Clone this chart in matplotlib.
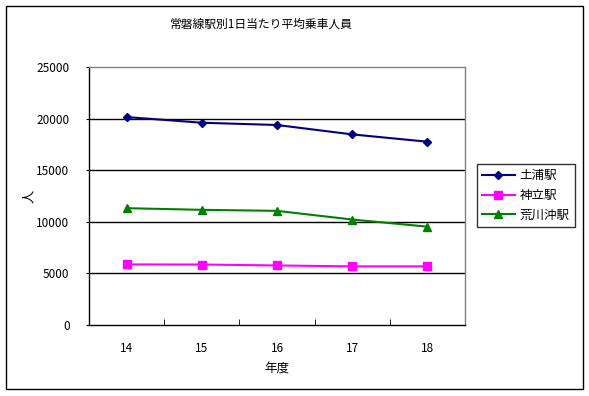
import matplotlib
matplotlib.use("Agg")
import matplotlib.pyplot as plt
from matplotlib.patches import Rectangle

plt.rcParams['font.family'] = ['Noto Sans CJK JP', 'DejaVu Sans']

title = "常磐線駅別1日当たり平均乗車人員"
years = ["14", "15", "16", "17", "18"]
tsuchiura = [20150, 19600, 19380, 18470, 17760]
kandatsu = [5870, 5860, 5770, 5680, 5680]
arakawaoki = [11320, 11160, 11060, 10220, 9530]
series_names = ["土浦駅", "神立駅", "荒川沖駅"]
yticks = [0, 5000, 10000, 15000, 20000, 25000]

fig = plt.figure(figsize=(5.89, 3.96), dpi=100)
fig.patches.append(Rectangle((6/589, 1-389/396), (583-6)/589, (389-6)/396,
                             transform=fig.transFigure, fill=False,
                             edgecolor='black', linewidth=1.0))

ax = fig.add_axes([89/589, 1-325/396, (465-89)/589, (325-67)/396])
x = list(range(len(years)))
l1, = ax.plot(x, tsuchiura, color='#000080', marker='D', markersize=4.5, linewidth=1.5)
l2, = ax.plot(x, kandatsu, color='#FF00FF', marker='s', markersize=5.5, linewidth=1.5)
l3, = ax.plot(x, arakawaoki, color='#008000', marker='^', markersize=6, linewidth=1.5)

ax.set_xlim(-0.5, len(years)-0.5)
ax.set_ylim(0, 25000)
ax.set_yticks(yticks)
ax.set_yticklabels([str(v) for v in yticks], fontsize=8.5)
ax.set_xticks(x)
ax.set_xticklabels(years, fontsize=8.5)
ax.tick_params(axis='x', length=0, pad=12)
ax.set_xticks([i + 0.5 for i in x[:-1]], minor=True)
ax.tick_params(axis='x', which='minor', direction='in', length=4, color='black')
ax.tick_params(axis='y', length=2, direction='out', pad=12, color='black')
for v in yticks[1:-1]:
    ax.axhline(v, color='black', linewidth=1.0, zorder=0)

ax.spines['left'].set_color('black')
ax.spines['bottom'].set_color('black')
ax.spines['top'].set_color('#808080')
ax.spines['right'].set_color('#808080')
for s in ax.spines.values():
    s.set_linewidth(1.0)

ax.set_xlabel("年度", fontsize=9, labelpad=5)
fig.text(29/589, 1-196/396, "人", rotation=90, ha='center', va='center', fontsize=9.5)

fig.text(261/589, 1-24/396, title, ha='center', va='center', fontsize=8.5)

leg = fig.legend([l1, l2, l3], series_names, loc='upper left',
                 bbox_to_anchor=(477/589, 1-164/396), fontsize=9,
                 frameon=True, fancybox=False, edgecolor='black',
                 borderpad=0.4, handlelength=2.6, labelspacing=0.55, handletextpad=0.4,
                 borderaxespad=0)
leg.get_frame().set_linewidth(1.0)

fig.savefig("out.png", dpi=100)
